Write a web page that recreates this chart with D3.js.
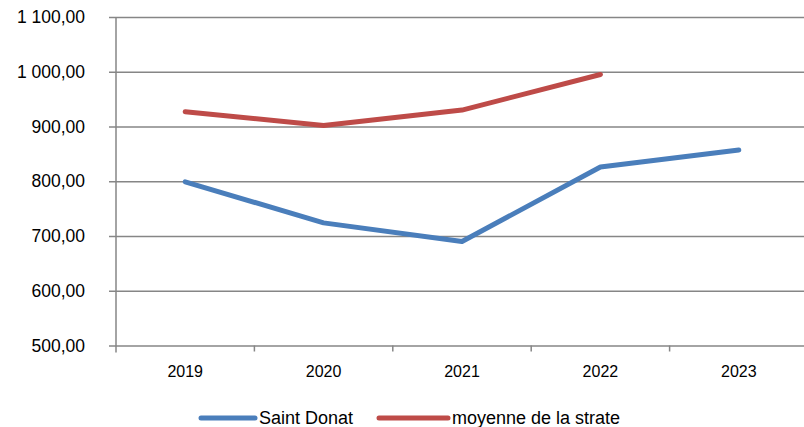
<!DOCTYPE html>
<html>
<head>
<meta charset="utf-8">
<script src="https://cdn.jsdelivr.net/npm/d3@7"></script>
<style>
  body { margin: 0; background: #fff; }
  svg { display: block; font-family: "Liberation Sans", Arial, sans-serif; }
</style>
</head>
<body>
<svg></svg>
<script>
// valeurs
var annees = ["2019", "2020", "2021", "2022", "2023"];
var saintDonat = [799, 724, 690, 826, 857];
var moyenneStrate = [927, 902, 930, 995, null];
var yTicks = [500, 600, 700, 800, 900, 1000, 1100];

var svgWidth = 804, svgHeight = 427;
var svg = d3.select("svg")
    .attr("width", svgWidth)
    .attr("height", svgHeight);

// zone du tracé (attention : "top" est réservé par window)
var plotLeft = 116, plotTop = 17, plotBottom = 345.5;
var bande = 138.4;

var xScale = d3.scaleBand()
    .domain(annees)
    .range([plotLeft, plotLeft + bande * annees.length]);

var yScale = d3.scaleLinear()
    .domain([500, 1100])
    .range([plotBottom, plotTop]);

// format français : espace pour les milliers, virgule décimale
var fr = d3.formatLocale({ decimal: ",", thousands: " ", grouping: [3], currency: ["", "€"] });
var fmt = fr.format(",.2f");

// grille horizontale + axe y
var axeY = d3.axisLeft(yScale)
    .tickValues(yTicks)
    .tickSize(0)
    .tickFormat(fmt);

var gY = svg.append("g")
    .attr("transform", "translate(" + (plotLeft - 7) + ",0)")
    .call(axeY);
gY.select(".domain").remove();
gY.selectAll(".tick line")
    .attr("x1", 0)
    .attr("x2", svgWidth - plotLeft + 10)
    .attr("stroke", "#868686")
    .attr("stroke-width", 1.5);
gY.selectAll(".tick text")
    .attr("x", -24)
    .attr("fill", "#000")
    .style("font-size", "17.5px");

// ligne verticale de l'axe
svg.append("line")
    .attr("x1", plotLeft).attr("x2", plotLeft)
    .attr("y1", plotTop).attr("y2", plotBottom + 7)
    .attr("stroke", "#868686")
    .attr("stroke-width", 1.5);

// axe x : graduations entre les catégories
var gX = svg.append("g")
    .attr("transform", "translate(0," + plotBottom + ")");
gX.selectAll("line.grad")
    .data(annees.slice(1))
    .enter()
    .append("line")
    .attr("class", "grad")
    .attr("x1", function (d) { return xScale(d); })
    .attr("x2", function (d) { return xScale(d); })
    .attr("y1", 0).attr("y2", 6)
    .attr("stroke", "#868686")
    .attr("stroke-width", 1.5);
gX.selectAll("text")
    .data(annees)
    .enter()
    .append("text")
    .attr("x", function (d) { return xScale(d) + xScale.bandwidth() / 2; })
    .attr("y", 31.5)
    .attr("text-anchor", "middle")
    .style("font-size", "16px")
    .text(function (d) { return d; });

// les deux courbes
var ligne = d3.line()
    .defined(function (d) { return d.v != null; })
    .x(function (d) { return xScale(d.a) + xScale.bandwidth() / 2; })
    .y(function (d) { return yScale(d.v); });

var series = [
    { nom: "Saint Donat", couleur: "#4a7ebb", valeurs: saintDonat },
    { nom: "moyenne de la strate", couleur: "#be4b48", valeurs: moyenneStrate }
];

series.forEach(function (s) {
    var pts = annees.map(function (a, i) { return { a: a, v: s.valeurs[i] }; });
    svg.append("path")
        .datum(pts)
        .attr("d", ligne)
        .attr("fill", "none")
        .attr("stroke", s.couleur)
        .attr("stroke-width", 5)
        .attr("stroke-linecap", "round")
        .attr("stroke-linejoin", "round");
});

// légende
var legende = [
    { x1: 201, x2: 255, tx: 259 },
    { x1: 379, x2: 448, tx: 452 }
];
var legY = 418;
series.forEach(function (s, i) {
    var l = legende[i];
    svg.append("line")
        .attr("x1", l.x1).attr("x2", l.x2)
        .attr("y1", legY).attr("y2", legY)
        .attr("stroke", s.couleur)
        .attr("stroke-width", 5)
        .attr("stroke-linecap", "round");
    svg.append("text")
        .attr("x", l.tx)
        .attr("y", legY + 6)
        .style("font-size", "18px")
        .text(s.nom);
});
</script>
</body>
</html>
